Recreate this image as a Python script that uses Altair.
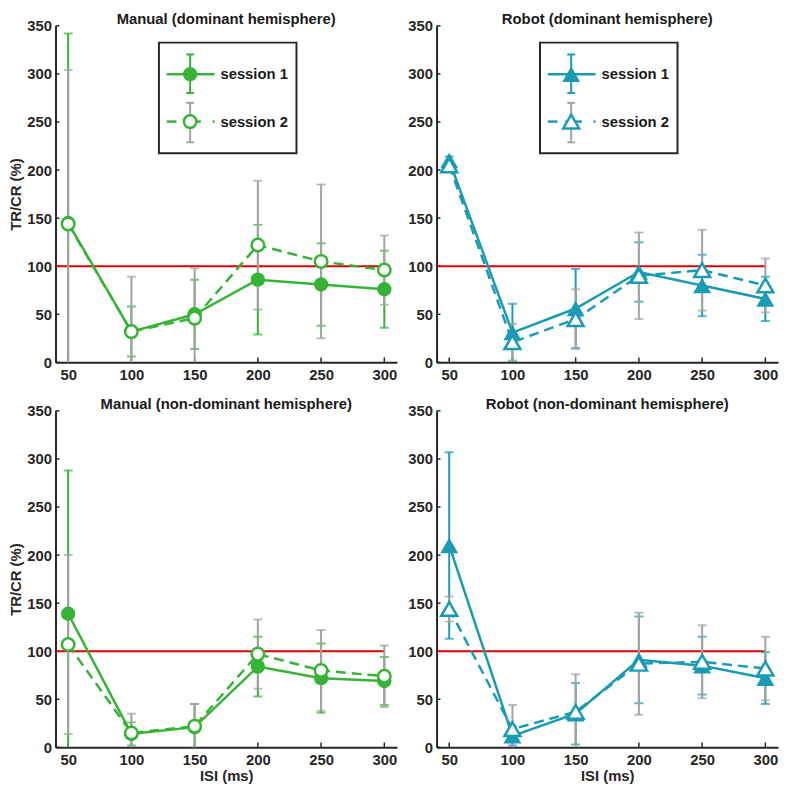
import altair as alt
import pandas as pd

# ---------------- data ----------------
isi = [50, 100, 150, 200, 250, 300]
x_ticks = [50, 100, 150, 200, 250, 300]
y_ticks = [0, 50, 100, 150, 200, 250, 300, 350]
ref_level = [100]
ref_span = [40, 300]

titles = [
    "Manual (dominant hemisphere)",
    "Robot (dominant hemisphere)",
    "Manual (non-dominant hemisphere)",
    "Robot (non-dominant hemisphere)",
]
session_labels = ["session 1", "session 2"]

manual_dom_s1 = [145, 32, 50, 86, 81, 76]
manual_dom_s1_err = [197, 26, 36, 57, 43, 40]
manual_dom_s2 = [144, 32, 46, 122, 105, 96]
manual_dom_s2_err = [160, 57, 52, 67, 80, 36]

robot_dom_s1 = [210, 31, 56, 94, 80, 66]
robot_dom_s1_err = [4, 30, 41, 31, 32, 23]
robot_dom_s2 = [205, 21, 45, 90, 96, 80]
robot_dom_s2_err = [4, 19, 31, 45, 42, 28]

manual_nd_s1 = [139, 14, 21, 84, 72, 69]
manual_nd_s1_err = [149, 12, 24, 31, 36, 25]
manual_nd_s2 = [107, 15, 22, 97, 80, 74]
manual_nd_s2_err = [93, 20, 23, 36, 42, 32]

robot_nd_s1 = [210, 12, 35, 91, 85, 72]
robot_nd_s1_err = [97, 10, 32, 45, 30, 27]
robot_nd_s2 = [144, 19, 37, 87, 89, 82]
robot_nd_s2_err = [13, 25, 39, 53, 38, 33]

# ---------------- style ----------------
W, H = 345, 340
GREEN = "#36b336"
TEAL = "#1b9ab4"
GRAY = "#a3a3a3"
RED = "#e00000"
DARK = "#262626"
FONT = "Liberation Sans"
FS = 15

xscale = alt.Scale(domain=[40, 310], nice=False, zero=False)
yscale = alt.Scale(domain=[0, 350], nice=False)

sx = W / 350.0
sy = H / 341.0


def one():
    return pd.DataFrame({"a": [0]})


def lrule(x1, x2, y1, y2, color, width=2.0, dash=None):
    kw = dict(color=color, strokeWidth=width)
    if dash is not None:
        kw["strokeDash"] = dash
    return alt.Chart(one()).mark_rule(**kw).encode(
        x=alt.value(x1 * sx), x2=alt.value(x2 * sx),
        y=alt.value(y1 * sy), y2=alt.value(y2 * sy),
    )


def make_legend(color, shape, psize, osize):
    layers = []
    layers.append(
        alt.Chart(one()).mark_rect(fill="white", stroke=DARK, strokeWidth=2).encode(
            x=alt.value(106 * sx), x2=alt.value(247 * sx),
            y=alt.value(17 * sy), y2=alt.value(129 * sy),
        )
    )
    # session 1
    layers.append(lrule(138, 138, 29, 68, color, 2))
    layers.append(lrule(134, 142, 29, 29, color, 2))
    layers.append(lrule(134, 142, 68, 68, color, 2))
    layers.append(lrule(114, 163, 49, 49, color, 2.5))
    layers.append(
        alt.Chart(one()).mark_point(shape=shape, filled=True, color=color, size=psize, opacity=1).encode(
            x=alt.value(138 * sx), y=alt.value(49 * sy)
        )
    )
    # session 2
    layers.append(lrule(138, 138, 78, 118, GRAY, 2))
    layers.append(lrule(134, 142, 78, 78, GRAY, 2))
    layers.append(lrule(134, 142, 118, 118, GRAY, 2))
    layers.append(lrule(114, 124, 97, 97, color, 2.5))
    layers.append(lrule(132, 149, 97, 97, color, 2.5))
    layers.append(lrule(161, 163, 97, 97, color, 2.5))
    layers.append(
        alt.Chart(one()).mark_point(shape=shape, filled=True, fill="white", stroke=color,
                                    strokeWidth=2.5, size=osize, opacity=1).encode(
            x=alt.value(138 * sx), y=alt.value(97 * sy)
        )
    )
    for lab, yy in zip(session_labels, [49, 97]):
        layers.append(
            alt.Chart(one()).mark_text(align="left", baseline="middle", font=FONT, fontSize=FS,
                                       fontWeight="bold", color="#1a1a1a").encode(
                x=alt.value(169 * sx), y=alt.value(yy * sy), text=alt.value(lab)
            )
        )
    return layers


def panel(title, s1, e1, s2, e2, color, shape, psize, osize, ytitle, xtitle, legend):
    xaxis = alt.Axis(values=x_ticks, title="ISI (ms)" if xtitle else None, labelPadding=5, titlePadding=1)
    yaxis = alt.Axis(values=y_ticks, title="TR/CR (%)" if ytitle else None, labelPadding=4, titlePadding=3)

    df = pd.DataFrame({
        "isi": isi + isi,
        "val": s1 + s2,
        "err": e1 + e2,
        "session": [session_labels[0]] * len(isi) + [session_labels[1]] * len(isi),
    })
    base = alt.Chart(df).transform_calculate(
        lo="datum.val - datum.err", hi="datum.val + datum.err"
    )
    X = alt.X("isi:Q", scale=xscale, axis=xaxis)

    # inward ticks
    tdf = pd.DataFrame({"t": x_ticks})
    ydf = pd.DataFrame({"v": y_ticks})
    xt = alt.Chart(tdf).mark_rule(color=DARK, strokeWidth=1.5).encode(
        x=alt.X("t:Q", scale=xscale, axis=xaxis), y=alt.value(H), y2=alt.value(H - 5))
    yt = alt.Chart(ydf).mark_rule(color=DARK, strokeWidth=1.5).encode(
        y=alt.Y("v:Q", scale=yscale, axis=yaxis), x=alt.value(0), x2=alt.value(4))

    refdf = pd.DataFrame({"x": [ref_span[0]], "x2": [ref_span[1]], "y": ref_level})
    red = alt.Chart(refdf).mark_rule(color=RED, strokeWidth=2).encode(
        x=alt.X("x:Q", scale=xscale, axis=xaxis), x2="x2:Q",
        y=alt.Y("y:Q", scale=yscale, axis=yaxis),
    )

    layers = [xt, yt, red]
    for sess, bcol in zip(session_labels, [color, GRAY]):
        sub = base.transform_filter(alt.datum.session == sess)
        layers.append(
            sub.mark_rule(color=bcol, strokeWidth=2, clip=True).encode(
                x=X, y=alt.Y("lo:Q", scale=yscale, axis=yaxis), y2="hi:Q"
            )
        )
        layers.append(
            sub.transform_fold(["lo", "hi"], as_=["end", "yv"]).mark_tick(
                orient="horizontal", size=9, thickness=2, color=bcol, clip=True
            ).encode(x=X, y=alt.Y("yv:Q", scale=yscale, axis=yaxis))
        )
    s1b = base.transform_filter(alt.datum.session == session_labels[0])
    s2b = base.transform_filter(alt.datum.session == session_labels[1])
    layers.append(s1b.mark_line(color=color, strokeWidth=2.5).encode(
        x=X, y=alt.Y("val:Q", scale=yscale, axis=yaxis)))
    layers.append(s2b.mark_line(color=color, strokeWidth=2.5, strokeDash=[10, 6]).encode(
        x=X, y=alt.Y("val:Q", scale=yscale, axis=yaxis)))
    layers.append(s1b.mark_point(shape=shape, filled=True, color=color, size=psize, opacity=1).encode(
        x=X, y=alt.Y("val:Q", scale=yscale, axis=yaxis)))
    layers.append(s2b.mark_point(shape=shape, filled=True, fill="white", stroke=color,
                                 strokeWidth=2.5, size=osize, opacity=1).encode(
        x=X, y=alt.Y("val:Q", scale=yscale, axis=yaxis)))
    if legend:
        layers += make_legend(color, shape, psize, osize)
    return alt.layer(*layers).properties(width=W, height=H, title=title)


tl = panel(titles[0], manual_dom_s1, manual_dom_s1_err, manual_dom_s2, manual_dom_s2_err,
           GREEN, "circle", 210, 160, True, False, True)
tr = panel(titles[1], robot_dom_s1, robot_dom_s1_err, robot_dom_s2, robot_dom_s2_err,
           TEAL, "triangle-up", 330, 260, False, False, True)
bl = panel(titles[2], manual_nd_s1, manual_nd_s1_err, manual_nd_s2, manual_nd_s2_err,
           GREEN, "circle", 210, 160, True, True, False)
br = panel(titles[3], robot_nd_s1, robot_nd_s1_err, robot_nd_s2, robot_nd_s2_err,
           TEAL, "triangle-up", 330, 260, False, True, False)

chart = alt.vconcat(
    alt.hconcat(tl, tr, spacing=10),
    alt.hconcat(bl, br, spacing=10),
    spacing=15,
).properties(padding=0, background="white").configure_view(stroke=None).configure_axis(
    labelFont=FONT, labelFontSize=FS, labelFontWeight="bold", labelColor=DARK,
    titleFont=FONT, titleFontSize=FS, titleFontWeight="bold", titleColor=DARK,
    domainColor=DARK, domainWidth=2, ticks=False, grid=False,
).configure_title(
    font=FONT, fontSize=FS, fontWeight="bold", color="#1a1a1a", offset=-8
)

chart.save("out.html", embed_options={"renderer": "svg", "actions": False})
